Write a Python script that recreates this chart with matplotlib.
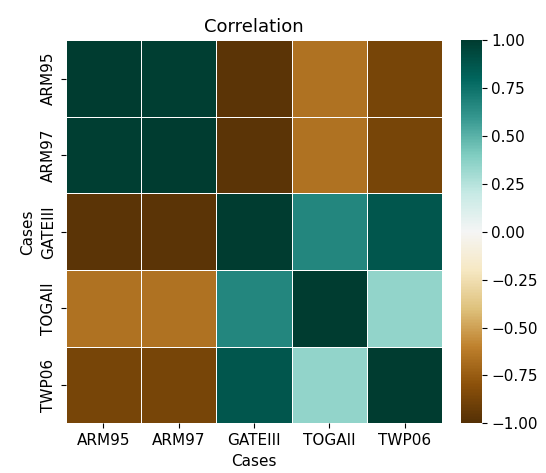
import numpy as np
import pandas as pd
import matplotlib
matplotlib.use("Agg")
import matplotlib.pyplot as plt
import seaborn as sns

cases = ["ARM95", "ARM97", "GATEIII", "TOGAII", "TWP06"]
row_arm95 = [1.00, 0.99, -0.97, -0.66, -0.87]
row_arm97 = [0.99, 1.00, -0.97, -0.66, -0.87]
row_gateiii = [-0.97, -0.97, 1.00, 0.67, 0.87]
row_togaii = [-0.66, -0.66, 0.67, 1.00, 0.35]
row_twp06 = [-0.87, -0.87, 0.87, 0.35, 1.00]

df = pd.DataFrame([row_arm95, row_arm97, row_gateiii, row_togaii, row_twp06],
                  index=cases, columns=cases)
df.index.name = "Cases"
df.columns.name = "Cases"

fig = plt.figure(figsize=(5.46, 4.73), dpi=100)
ax = fig.add_axes([0.12, 0.105, 0.69, 0.81])
cax = fig.add_axes([0.845, 0.105, 0.037, 0.81])
sns.heatmap(df, ax=ax, cbar_ax=cax, cmap="BrBG", vmin=-1, vmax=1,
            linewidths=0.5, linecolor="white")
ax.set_title("Correlation", fontsize=13)
ax.set_xlabel("Cases", fontsize=11)
ax.set_ylabel("Cases", fontsize=11)
ax.tick_params(axis="both", labelsize=11)
plt.setp(ax.get_yticklabels(), rotation=90, va="center")
plt.setp(ax.get_xticklabels(), rotation=0)
cax.tick_params(labelsize=11)
cbar = ax.collections[0].colorbar
cbar.set_ticks([-1, -0.75, -0.5, -0.25, 0, 0.25, 0.5, 0.75, 1])
cbar.set_ticklabels(["\u22121.00", "\u22120.75", "\u22120.50", "\u22120.25", "0.00",
                     "0.25", "0.50", "0.75", "1.00"])
cbar.outline.set_visible(False)
fig.savefig("out.png", dpi=100)
